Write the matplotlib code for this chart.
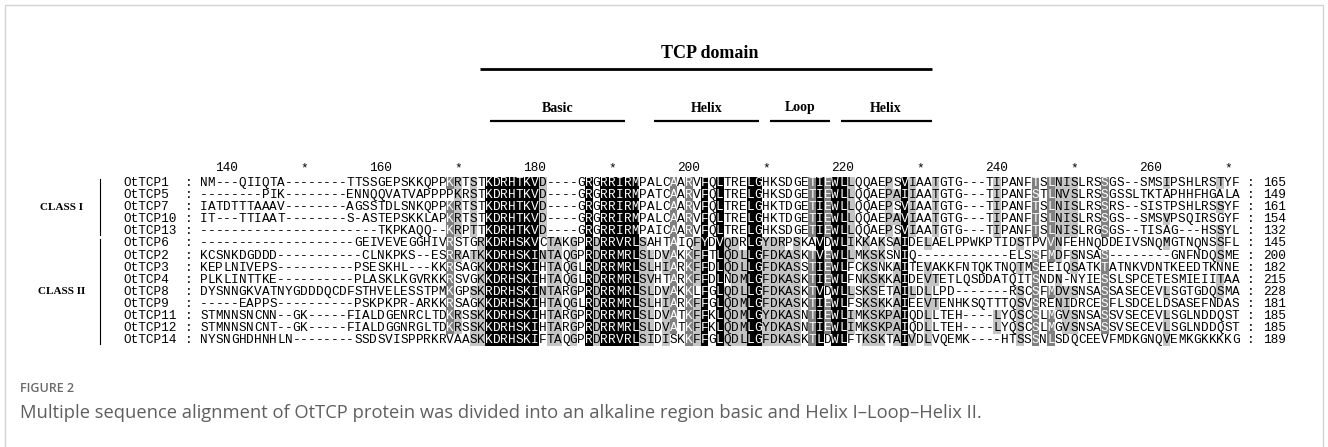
import numpy as np
import matplotlib
matplotlib.use("Agg")
import matplotlib.pyplot as plt
from matplotlib.patches import Rectangle

# alignment data
names = ["OtTCP1", "OtTCP5", "OtTCP7", "OtTCP10", "OtTCP13",
         "OtTCP6", "OtTCP2", "OtTCP3", "OtTCP4", "OtTCP8",
         "OtTCP9", "OtTCP11", "OtTCP12", "OtTCP14"]
seqs = [
    "NM---QIIQTA--------TTSSGEPSKKQPPKRTSTKDRHTKVD----GRGRRIRMPALCAARVFQLTRELGHKSDGETIEWLLQQAEPSVIAATGTG---TIPANFTSLNISLRSSGS--SMSIPSHLRSTYF",
    "--------PIK--------ENNQQVATVAPPPPKRSTKDRHTKVD----GRGRRIRMPATCAARVFQLTRELGHKSDGETIEWLLQQAEPAIIAATGTG---TIPANFSTLNVSLRSSGSSLTKTAPHHFHGALA",
    "IATDTTTAAAV--------AGSSTDLSNKQPPKRTSTKDRHTKVD----GRGRRIRMPALCAARVFQLTRELGHKTDGETIEWLLQQAEPSVIAATGTG---TIPANFTSLNISLRSSRS--SISTPSHLRSSYF",
    "IT---TTIAAT--------S-ASTEPSKKLAPKRTSTKDRHTKVD----GRGRRIRMPALCAARVFQLTRELGHKTDGETIEWLLQQAEPAVIAATGTG---TIPANFTSLNISLRSSGS--SMSVPSQIRSGYF",
    "-----------------------TKPKAQQ--KRPTTKDRHTKVD----GRGRRIRMPAICAARVFQLTRELGHKSDGETIEWLLQQAEPSVIAATGTG---TIPANFTSLNISLRGSGS--TISAG---HSSYL",
    "--------------------GEIVEVEGGHIVRSTGRKDRHSKVCTAKGPRDRRVRLSAHTAIQFYDVQDRLGYDRPSKAVDWLIKKAKSAIDELAELPPWKPTIDSTPVVNFEHNQDDEIVSNQMGTNQNSSFL",
    "KCSNKDGDDD-----------CLNKPKS--ESRRATKKDRHSKINTAQGPRDRRMRLSLDVAKKFFTLQDLLGFDKASKTVEWLLMKSKSNIQ------------ELSSFMDFSNSAS--------GNFNDQSME",
    "KEPLNIVEPS----------PSESKHL---KKRSAGKKDRHSKIHTAQGLRDRRMRLSLHIARKFFDLQDLLGFDKASSTIEWLFCKSNKAITEVAKKFNTQKTNQTMSEEIQSATKTATNKVDNTKEEDTKNNE",
    "PLKLINTTKE----------PLASKLKGVRKKRSVGKKDRHSKIHTAQGLRDRRMRLSVHTARKFFDLNDMLGFDKASKTIEWLFNKSKKAIDEVTETLQSDDATQITSNDN-NYIESSLSPCETESMIEIITAA",
    "DYSNNGKVATNYGDDDQCDFSTHVELESSTPMKGPSKRDRHSKINTARGPRDRRMRLSLDVAKKLFGLQDLLGFDKASKTVDWLLSKSETAILDLLPD-------RSCSFMDVSNSASSASECEVLSGTGDQSMA",
    "-----EAPPS----------PSKPKPR-ARKKRSAGKKDRHSKIHTAQGLRDRRMRLSLHIARKFFGLQDMLGFDKASKTIEWLFSKSKKAIEEVTENHKSQTTTQSVSRENIDRCESFLSDCELDSASEFNDAS",
    "STMNNSNCNN--GK-----FIALDGENRCLTDKRSSKKDRHSKIHTARGPRDRRMRLSLDVATKFFKLQDMLGYDKASNTIEWLIMKSKPAIQDLLTEH----LYQSCSLMGVSNSASSVSECEVLSGLNDDQST",
    "STMNNSNCNT--GK-----FIALDGGNRGLTDKRSSKKDRHSKIHTARGPRDRRMRLSLDVATKFFKLQDMLGYDKASNTIEWLIMKSKPAIQDLLTEH----LYQSCSLMGVSNSASSVSECEVLSGLNDDQST",
    "NYSNGHDHNHLN--------SSDSVISPPRKRVAASKKDRHSKIFTAQGPRDRRVRLSIDISKKFFGLQDLLGFDKASKTLDWLFTKSKTAIVDLVQEMK----HTSSSNLSDQCEEVFMDKGNQVEMKGKKKKG",
]
end_pos = [165, 149, 161, 154, 132, 145, 200, 182, 215, 228, 181, 185, 185, 189]
classes = [("CLASS I", 0, 4), ("CLASS II", 5, 13)]

# ruler above the alignment (alignment position of first column = 137)
first_col_pos = 137
ruler_pos = [140, 150, 160, 170, 180, 190, 200, 210, 220, 230, 240, 250, 260, 270]
ruler_lab = ["140", "*", "160", "*", "180", "*", "200", "*", "220", "*", "240", "*", "260", "*"]

# domain annotation, in alignment columns
domain = ("TCP domain", 36.4, 95.0)
motifs = [("Basic", 37.6, 55.2), ("Helix", 59.0, 72.6), ("Loop", 74.0, 81.8), ("Helix", 83.2, 95.0)]

GROUPS = ["DN", "EQ", "ST", "KR", "FYW", "LIVM"]
SHADES = {1: "#c4c4c4", 2: "#808080", 3: "#000000"}


def conservation(seqs):
    """GeneDoc style: 100% black, >=75% dark grey, >=50% light grey"""
    n = len(seqs)
    lev = np.zeros((n, len(seqs[0])), dtype=int)
    for c in range(len(seqs[0])):
        col = [s[c] for s in seqs]
        cands = [set(a) for a in sorted(set(col)) if a != "-"] + [set(g) for g in GROUPS]
        best = max(cands, key=lambda g: sum(a in g for a in col))
        frac = sum(a in best for a in col) / n
        k = 3 if frac >= 1 else 2 if frac >= 0.75 else 1 if frac >= 0.5 else 0
        for r, a in enumerate(col):
            if a in best:
                lev[r, c] = k
    return lev


W, H = 1328, 447
fig = plt.figure(figsize=(W / 100, H / 100), dpi=100)
ax = fig.add_axes([0, 0, 1, 1])
ax.set_xlim(0, W)
ax.set_ylim(H, 0)
ax.axis("off")

X0 = 200.0      # left edge of first alignment column
CW = 7.7        # column width
Y0 = 183.0      # centre of first row
RH = 12.1       # row height
FS = 9.2
mono = "Liberation Mono"
serif = "Liberation Serif"


def cx(c):
    return X0 + (c + 0.5) * CW


ax.add_patch(Rectangle((5, 5), W - 10, H + 10, fill=False, ec="#d4d4d4", lw=1))

# TCP domain bar and motifs
ax.text((cx(domain[1]) + cx(domain[2])) / 2, 53, domain[0], ha="center", va="center",
        family=serif, weight="bold", size=13)
ax.plot([X0 + domain[1] * CW, X0 + domain[2] * CW], [69, 69], color="black", lw=2, solid_capstyle="butt")
for lab, a, b in motifs:
    xa, xb = X0 + a * CW, X0 + b * CW
    ax.text((xa + xb) / 2, 108, lab, ha="center", va="center", family=serif, weight="bold", size=10)
    ax.plot([xa, xb], [121, 121], color="black", lw=1.6, solid_capstyle="butt")

# ruler
for p, lab in zip(ruler_pos, ruler_lab):
    ax.text(cx(p - first_col_pos), Y0 - RH * 1.2, lab, ha="center", va="center", family=mono, size=FS)

lev = conservation(seqs)
for r, (name, s, n) in enumerate(zip(names, seqs, end_pos)):
    y = Y0 + r * RH
    ax.text(X0 - 10 * CW, y, name, ha="left", va="center", family=mono, size=FS)
    ax.text(cx(-2), y, ":", ha="center", va="center", family=mono, size=FS)
    ax.text(cx(len(s) + 1), y, ":", ha="center", va="center", family=mono, size=FS)
    ax.text(X0 + (len(s) + 6) * CW, y, str(n), ha="right", va="center", family=mono, size=FS)
    for c, ch in enumerate(s):
        k = lev[r, c]
        if k:
            ax.add_patch(Rectangle((X0 + c * CW, y - RH / 2), CW, RH, color=SHADES[k], lw=0))
        ax.text(cx(c), y, ch, ha="center", va="center", family=mono, size=FS,
                color="white" if k >= 2 else "black")

# class brackets
for lab, r0, r1 in classes:
    ya, yb = Y0 + (r0 - 0.5) * RH, Y0 + (r1 + 0.5) * RH
    ax.plot([100, 100], [ya + 2, yb - 2], color="black", lw=0.8)
    ax.text(62, (Y0 + r0 * RH + Y0 + r1 * RH) / 2, lab, ha="center", va="center",
            family=serif, weight="bold", size=8)

# caption
ax.text(20, 389, "FIGURE 2", ha="left", va="center", family="Open Sans", weight="semibold",
        size=9, color="#6a6a6a")
ax.text(20, 413, "Multiple sequence alignment of OtTCP protein was divided into an alkaline region basic "
        "and Helix I\u2013Loop\u2013Helix II.", ha="left", va="center", family="Open Sans",
        size=13.2, color="#5f5f5f")

fig.savefig("out.png", dpi=100)
